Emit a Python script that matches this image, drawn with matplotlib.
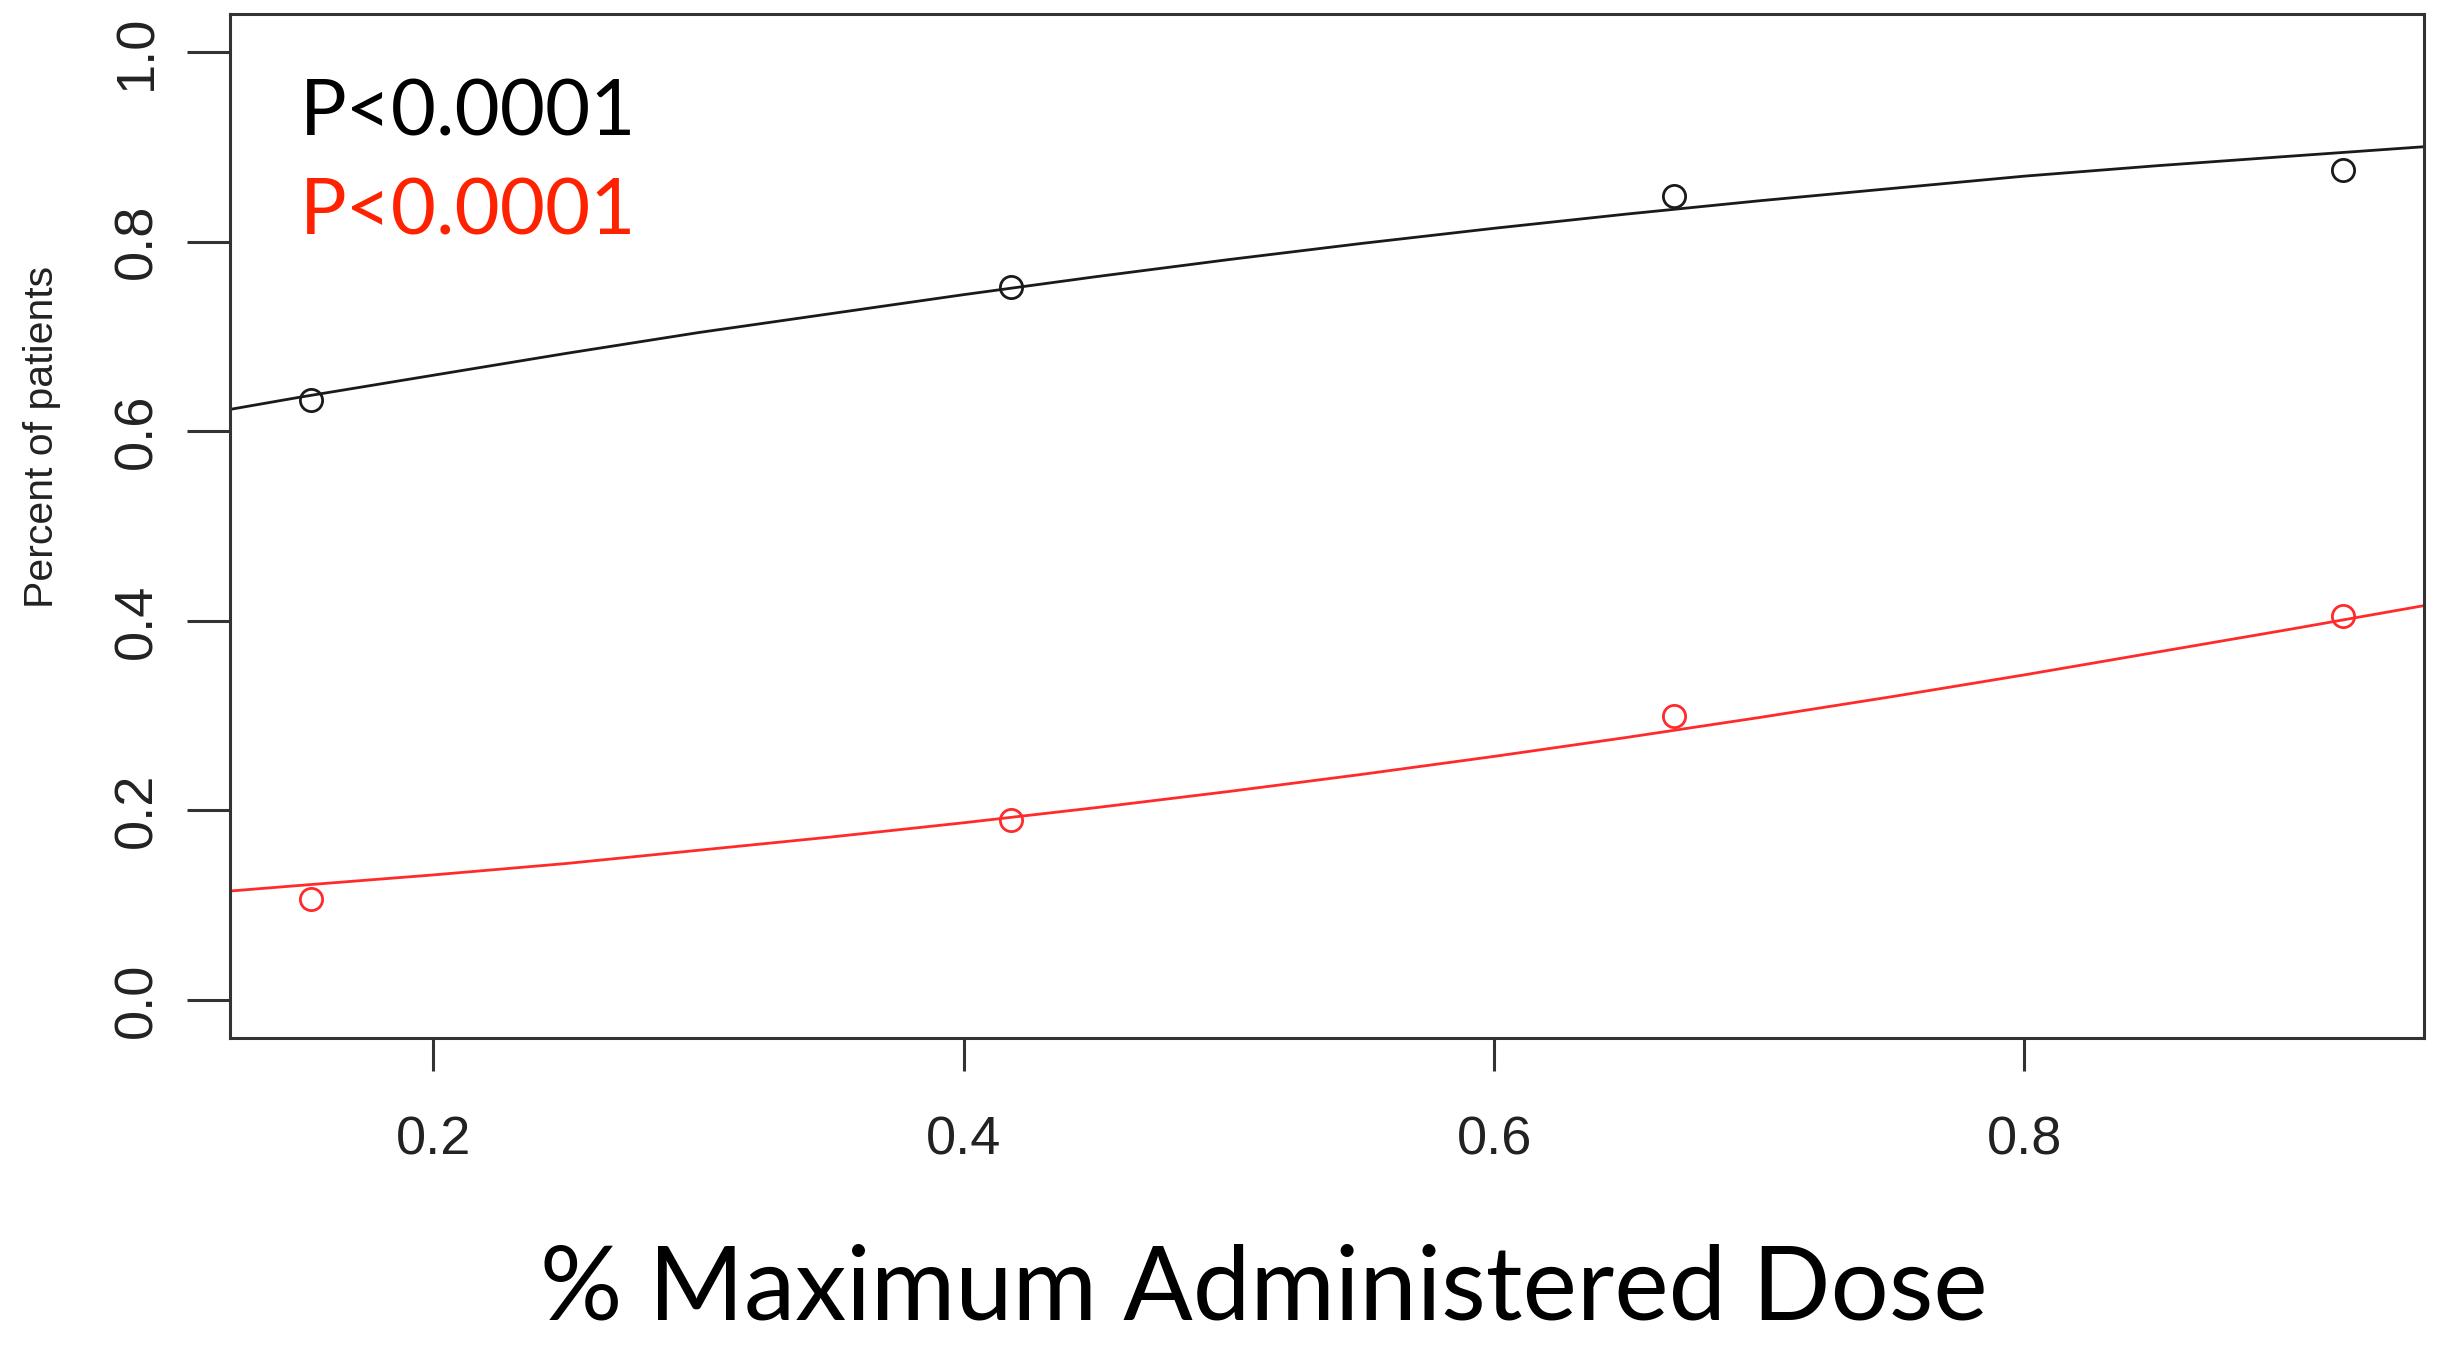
import matplotlib
matplotlib.use("Agg")
import matplotlib.pyplot as plt

# ---- data ----
dose_points = [0.154, 0.418, 0.668, 0.920]
black_points = [0.633, 0.752, 0.848, 0.875]
red_points = [0.107, 0.190, 0.300, 0.405]

curve_x = [0.1234, 0.15, 0.20, 0.25, 0.30, 0.35, 0.40, 0.45, 0.50, 0.55,
           0.60, 0.65, 0.70, 0.75, 0.80, 0.85, 0.90, 0.9506]
black_curve = [0.623, 0.636, 0.659, 0.682, 0.704, 0.724, 0.744, 0.763, 0.781, 0.798,
               0.814, 0.829, 0.843, 0.856, 0.869, 0.880, 0.890, 0.900]
red_curve = [0.115, 0.121, 0.132, 0.144, 0.158, 0.172, 0.187, 0.203, 0.220, 0.238,
             0.257, 0.277, 0.298, 0.320, 0.343, 0.367, 0.391, 0.416]

x_ticks = [0.2, 0.4, 0.6, 0.8]
y_ticks = [0.0, 0.2, 0.4, 0.6, 0.8, 1.0]
x_label = "% Maximum Administered Dose"
y_label = "Percent of patients"
p_texts = ["P<0.0001", "P<0.0001"]

BLACK = "#1a1a1a"
RED = "#ff2a2a"
RED_TEXT = "#ff2200"

W, H = 2441, 1354
fig = plt.figure(figsize=(W / 100, H / 100), dpi=100)
ax = fig.add_axes([230 / W, 1 - 1038 / H, (2424 - 230) / W, (1038 - 14) / H])

ax.plot(curve_x, black_curve, color=BLACK, lw=2.0, solid_capstyle="butt")
ax.plot(curve_x, red_curve, color=RED, lw=2.0, solid_capstyle="butt")
ax.plot(dose_points, black_points, ls="none", marker="o", ms=16, mfc="none",
        mec=BLACK, mew=2.0)
ax.plot(dose_points, red_points, ls="none", marker="o", ms=16, mfc="none",
        mec=RED, mew=2.0)

xr = max(dose_points) - min(dose_points)
ax.set_xlim(min(dose_points) - 0.04 * xr, max(dose_points) + 0.04 * xr)
ax.set_ylim(-0.04, 1.04)

for s in ax.spines.values():
    s.set_linewidth(2.2)
    s.set_color("#333333")

ax.set_xticks(x_ticks)
ax.set_xticklabels([f"{v:.1f}" for v in x_ticks], fontfamily="Liberation Sans",
                   fontsize=39, color="#222222")
ax.set_yticks(y_ticks)
ax.set_yticklabels([f"{v:.1f}" for v in y_ticks], fontfamily="Liberation Sans",
                   fontsize=39, color="#222222", rotation=90, va="center")
ax.tick_params(axis="x", length=24, width=2.2, color="#333333", pad=32)
ax.tick_params(axis="y", length=31, width=2.2, color="#333333", pad=18)

fig.text(1264 / W, 1 - 1291 / H, x_label, ha="center", va="center",
         fontfamily="Lato", fontsize=74, color="black")
fig.text(42 / W, 1 - 437 / H, y_label, ha="center", va="center", rotation=90,
         fontfamily="Liberation Sans", fontsize=29.5, color="#222222")

ax.text(300 / W, 1 - 114 / H, p_texts[0], transform=fig.transFigure, ha="left",
        va="center", fontfamily="Lato", fontsize=56, color="black")
ax.text(300 / W, 1 - 213 / H, p_texts[1], transform=fig.transFigure, ha="left",
        va="center", fontfamily="Lato", fontsize=56, color=RED_TEXT)

fig.savefig("out.png", dpi=100, facecolor="white")
